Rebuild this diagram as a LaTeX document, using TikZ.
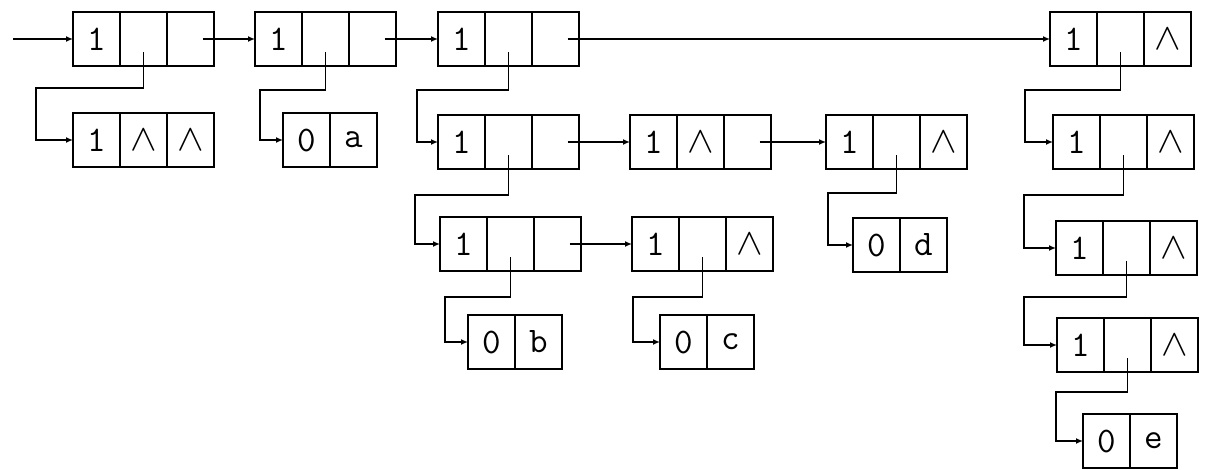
\documentclass[tikz,border=0pt]{standalone}
\usepackage{fontspec}
\usepackage{graphicx}
\usetikzlibrary{calc,arrows.meta}
\newcommand\nilsym{{\fontsize{24.88}{24.88}\selectfont\scalebox{1.6}[1.5]{$\wedge$}}}
\begin{document}
\begin{tikzpicture}[x=1pt,y=-1pt,
  cell/.style={draw, line width=1.5pt, minimum width=47pt, minimum height=54pt,
    inner sep=0pt, outer sep=0pt, font=\ttfamily\fontsize{36}{36}\selectfont},
  ptr/.style={line width=1.5pt, -{Latex[length=7pt,width=6pt]}}]
\useasboundingbox (0,0) rectangle (1206,469);
% R1
\node[cell] (A1) at (96.5,39) {1};
\node[cell] (A2) at (143.5,39) {};
\node[cell] (A3) at (190.5,39) {};
% R2
\node[cell] (B1) at (96.5,140) {1};
\node[cell] (B2) at (143.5,140) {\nilsym};
\node[cell] (B3) at (190.5,140) {\nilsym};
% R3
\node[cell] (C1) at (278.5,39) {1};
\node[cell] (C2) at (325.5,39) {};
\node[cell] (C3) at (372.5,39) {};
% R4
\node[cell] (D1) at (306.5,140) {0};
\node[cell] (D2) at (353.5,140) {a};
% R5
\node[cell] (E1) at (461.5,39) {1};
\node[cell] (E2) at (508.5,39) {};
\node[cell] (E3) at (555.5,39) {};
% R6
\node[cell] (F1) at (1073.5,39) {1};
\node[cell] (F2) at (1120.5,39) {};
\node[cell] (F3) at (1167.5,39) {\nilsym};
% R7
\node[cell] (G1) at (461.5,142) {1};
\node[cell] (G2) at (508.5,142) {};
\node[cell] (G3) at (555.5,142) {};
% R8
\node[cell] (H1) at (653.5,142) {1};
\node[cell] (H2) at (700.5,142) {\nilsym};
\node[cell] (H3) at (747.5,142) {};
% R9
\node[cell] (I1) at (849.5,142) {1};
\node[cell] (I2) at (896.5,142) {};
\node[cell] (I3) at (943.5,142) {\nilsym};
% R10
\node[cell] (J1) at (876.5,245) {0};
\node[cell] (J2) at (923.5,245) {d};
% R11
\node[cell] (K1) at (463.5,244) {1};
\node[cell] (K2) at (510.5,244) {};
\node[cell] (K3) at (557.5,244) {};
% R12
\node[cell] (L1) at (655.5,244) {1};
\node[cell] (L2) at (702.5,244) {};
\node[cell] (L3) at (749.5,244) {\nilsym};
% R13
\node[cell] (M1) at (491.5,342) {0};
\node[cell] (M2) at (538.5,342) {b};
% R14
\node[cell] (N1) at (683.5,342) {0};
\node[cell] (N2) at (730.5,342) {c};
% R15
\node[cell] (O1) at (1076.5,142) {1};
\node[cell] (O2) at (1123.5,142) {};
\node[cell] (O3) at (1170.5,142) {\nilsym};
% R16
\node[cell] (P1) at (1079.5,248) {1};
\node[cell] (P2) at (1126.5,248) {};
\node[cell] (P3) at (1173.5,248) {\nilsym};
% R17
\node[cell] (Q1) at (1080.5,345) {1};
\node[cell] (Q2) at (1127.5,345) {};
\node[cell] (Q3) at (1174.5,345) {\nilsym};
% R18
\node[cell] (S1) at (1106.5,441) {0};
\node[cell] (S2) at (1153.5,441) {e};

% entry
\coordinate (in) at (13,39);
\draw[ptr] (in) -- (A1.west);
% horizontal links
\draw[ptr] ($(A3.center)+(12,0)$) -- (C1.west);
\draw[ptr] ($(C3.center)+(12,0)$) -- (E1.west);
\draw[ptr] ($(E3.center)+(12,0)$) -- (F1.west);
\draw[ptr] ($(G3.center)+(12,0)$) -- (H1.west);
\draw[ptr] ($(H3.center)+(12,0)$) -- (I1.west);
\draw[ptr] ($(K3.center)+(12,0)$) -- (L1.west);
% down links
\draw[ptr] ($(A2.center)+(0,13)$) |- (36,88) |- (B1.west);
\draw[ptr] ($(C2.center)+(0,13)$) |- (260,90) |- (D1.west);
\draw[ptr] ($(E2.center)+(0,13)$) |- (417,90) |- (G1.west);
\draw[ptr] ($(F2.center)+(0,13)$) |- (1025,90) |- (O1.west);
\draw[ptr] ($(G2.center)+(0,13)$) |- (415,195) |- (K1.west);
\draw[ptr] ($(I2.center)+(0,13)$) |- (828,193) |- (J1.west);
\draw[ptr] ($(K2.center)+(0,13)$) |- (445,297) |- (M1.west);
\draw[ptr] ($(L2.center)+(0,13)$) |- (633,297) |- (N1.west);
\draw[ptr] ($(O2.center)+(0,13)$) |- (1024,195) |- (P1.west);
\draw[ptr] ($(P2.center)+(0,13)$) |- (1024,297) |- (Q1.west);
\draw[ptr] ($(Q2.center)+(0,13)$) |- (1056,392) |- (S1.west);
\end{tikzpicture}
\end{document}
